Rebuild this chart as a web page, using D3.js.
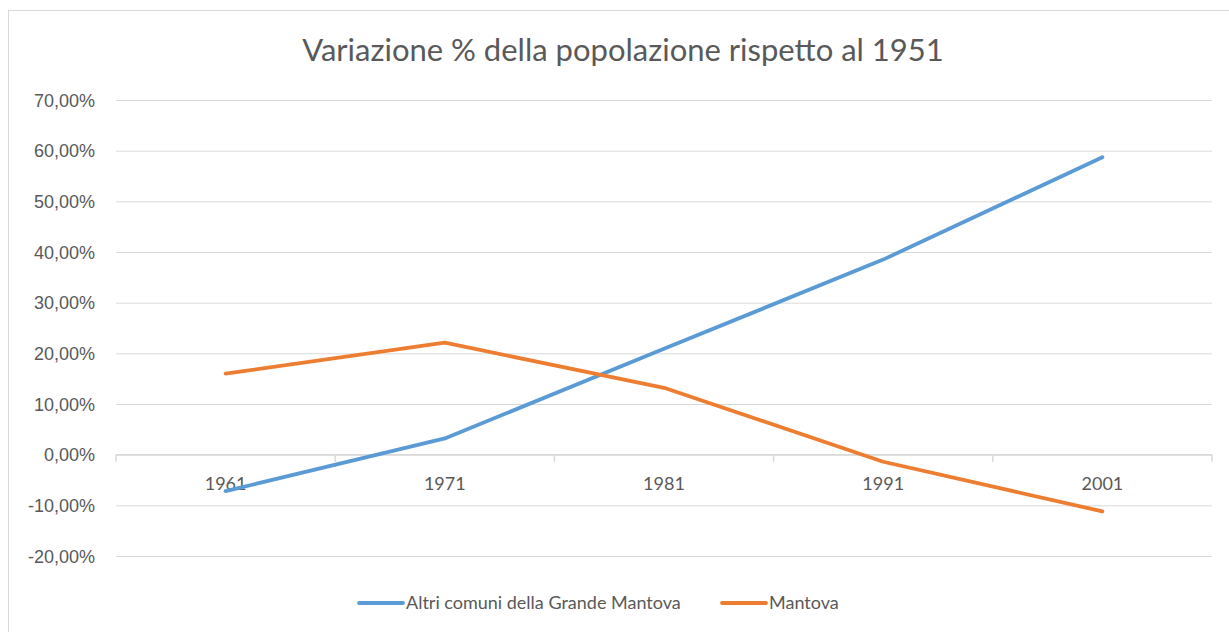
<!DOCTYPE html>
<html>
<head>
<meta charset="utf-8">
<script src="https://cdn.jsdelivr.net/npm/d3@7"></script>
<style>
  html, body { margin: 0; padding: 0; background: #fff; }
  svg { display: block; font-family: Lato, "Open Sans", sans-serif; }
</style>
</head>
<body>
<svg id="chart" width="1229" height="632"></svg>
<script>
// Census years compared with 1951
const years = ["1961", "1971", "1981", "1991", "2001"];
// Percentage change of resident population vs 1951
const altriComuni = [-7.2, 3.2, 20.9, 38.5, 58.7];
const mantova = [16.0, 22.1, 13.2, -1.4, -11.2];
const yTicks = [-20, -10, 0, 10, 20, 30, 40, 50, 60, 70];

const seriesList = [
  { name: "Altri comuni della Grande Mantova", values: altriComuni, color: "#5b9bd5" },
  { name: "Mantova", values: mantova, color: "#ed7d31" }
];

const svg = d3.select("#chart");
const W = 1229, H = 632;
const plot = { left: 116, right: 1212, top: 100, bottom: 556 };
const labelSize = 18;

// Outer chart frame
svg.append("rect")
  .attr("x", 8.5).attr("y", 10.5)
  .attr("width", W + 10).attr("height", H + 10)
  .attr("fill", "#fff").attr("stroke", "#d9d9d9").attr("stroke-width", 1);

// Title
svg.append("text")
  .attr("x", 623).attr("y", 61)
  .attr("text-anchor", "middle")
  .attr("fill", "#595959")
  .attr("font-size", 31)
  .text("Variazione % della popolazione rispetto al 1951");

const x = d3.scaleBand().domain(years).range([plot.left, plot.right]).padding(0);
const y = d3.scaleLinear().domain([-20, 70]).range([plot.bottom, plot.top]);
const fmt = v => (v < 0 ? "-" : "") + d3.format(".2f")(Math.abs(v)).replace(".", ",") + "%";

// Horizontal gridlines + y axis labels
const yAxis = d3.axisLeft(y).tickValues(yTicks).tickSize(-(plot.right - plot.left)).tickFormat(fmt).tickPadding(21);
const gy = svg.append("g").attr("transform", `translate(${plot.left},0)`).call(yAxis);
gy.select(".domain").remove();
gy.selectAll(".tick line").attr("stroke", "#d9d9d9").attr("stroke-width", 1);
gy.selectAll(".tick text").attr("fill", "#595959").attr("font-size", labelSize).attr("dy", "0.35em");

// Category axis crossing at zero, with ticks between categories
const gx = svg.append("g").attr("transform", `translate(0,${y(0)})`);
gx.append("line")
  .attr("x1", plot.left).attr("x2", plot.right)
  .attr("stroke", "#d9d9d9").attr("stroke-width", 1.5);
const boundaries = years.map(d => x(d)).concat([plot.right]);
gx.selectAll("line.tk").data(boundaries).join("line")
  .attr("class", "tk")
  .attr("x1", d => d).attr("x2", d => d)
  .attr("y1", 0).attr("y2", 7)
  .attr("stroke", "#d9d9d9").attr("stroke-width", 1.5);
gx.selectAll("text").data(years).join("text")
  .attr("x", d => x(d) + x.bandwidth() / 2)
  .attr("y", 35)
  .attr("text-anchor", "middle")
  .attr("fill", "#595959")
  .attr("font-size", labelSize)
  .text(d => d);

// Series lines
const line = d3.line()
  .x((d, i) => x(years[i]) + x.bandwidth() / 2)
  .y(d => y(d));
svg.selectAll("path.series").data(seriesList).join("path")
  .attr("class", "series")
  .attr("d", d => line(d.values))
  .attr("fill", "none")
  .attr("stroke", d => d.color)
  .attr("stroke-width", 3.8)
  .attr("stroke-linecap", "round")
  .attr("stroke-linejoin", "round");

// Legend
const legendX = [359, 722];
const lg = svg.selectAll("g.legend").data(seriesList).join("g")
  .attr("class", "legend")
  .attr("transform", (d, i) => `translate(${legendX[i]},603)`);
lg.append("line")
  .attr("x1", 0).attr("x2", 44)
  .attr("stroke", d => d.color).attr("stroke-width", 3.8).attr("stroke-linecap", "round");
lg.append("text")
  .attr("x", 47).attr("dy", "0.35em")
  .attr("fill", "#595959")
  .attr("font-size", labelSize)
  .text(d => d.name);
</script>
</body>
</html>
